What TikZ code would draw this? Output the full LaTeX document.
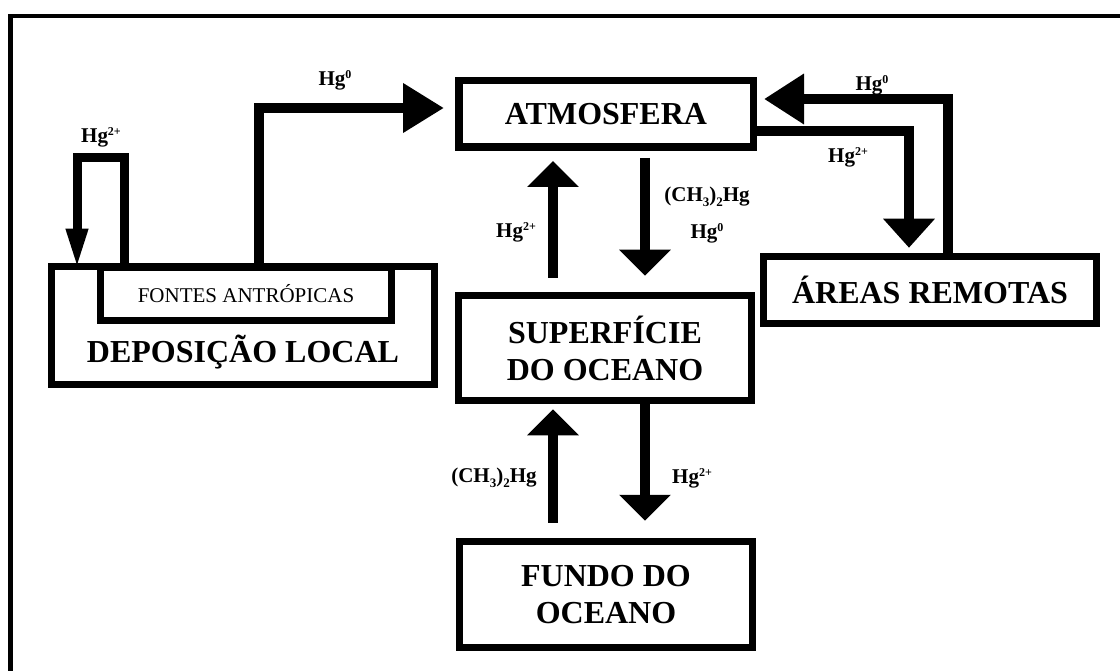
\documentclass[tikz,border=0pt]{standalone}
\usepackage{fontspec}
\setmainfont{Liberation Serif}
\usetikzlibrary{arrows.meta,calc}
\newcommand{\mysup}[1]{\raisebox{0.75ex}{\fontsize{12}{13}\selectfont #1}}
\newcommand{\mysub}[1]{\raisebox{-0.45ex}{\fontsize{13}{14}\selectfont #1}}
\begin{document}
\begin{tikzpicture}[x=1pt,y=-1pt,
  box/.style={draw, line width=7.5pt, inner sep=0pt, align=center},
  big/.style={font=\fontsize{32}{37}\selectfont\bfseries},
  lbl/.style={font=\fontsize{21}{24}\selectfont\bfseries, inner sep=0pt},
  flow/.style={line width=10.5pt, line join=miter, -{Triangle[length=26pt,width=50pt]}},
]
\useasboundingbox (0,0) rectangle (1120,671);
\clip (0,0) rectangle (1120,671);
\draw[line width=4.5pt] (1130,16) -- (10.5,16) -- (10.5,680);

% boxes
\node[box, big, minimum width=294.5pt, minimum height=66.5pt] (atm) at (606,114) {ATMOSFERA};
\node[box, big, minimum width=333pt, minimum height=67pt] (are) at (930,290) {ÁREAS REMOTAS};
\node[box, big, minimum width=293pt, minimum height=105pt] (sup) at (605,348) {SUPERFÍCIE\\DO OCEANO};
\node[box, big, minimum width=293pt, minimum height=106pt] (fun) at (606,594.5) {FUNDO DO\\OCEANO};
\node[box, minimum width=383pt, minimum height=118pt] (dep) at (243,325.5) {};
\node[box, minimum width=291pt, minimum height=53pt, font=\fontsize{21}{24}\selectfont] (fon) at (246,294) {FONTES ANTRÓPICAS};
\node[big, inner sep=0pt] (deptxt) at (243,352) {DEPOSIÇÃO LOCAL};

% helper coordinates
\coordinate (x77) at (77,0);
\coordinate (x124) at (124,0);
\coordinate (x259) at (259,0);
\coordinate (x553) at (553,0);
\coordinate (x645) at (645,0);
\coordinate (x909) at (909,0);
\coordinate (x948) at (948,0);
\coordinate (y158) at (0,158);
\coordinate (y108) at (0,108);
\coordinate (y99) at (0,99);
\coordinate (y131) at (0,131);

% connectors
\draw[line width=9pt, line join=miter, -{Triangle[length=40pt,width=20pt]}]
  (fon.north -| x124) -- (x124 |- y158) -- (x77 |- y158) -- ($(dep.north -| x77)+(0,6)$);
\draw[flow, -{Triangle[length=41pt,width=47pt]}]
  (fon.north -| x259) |- ($(atm.west |- y108)+(-11,0)$);
\draw[flow, -{Triangle[length=40pt,width=48pt]}]
  (are.north -| x948) |- ($(atm.east |- y99)+(7,0)$);
\draw[flow, -{Triangle[length=29pt,width=50pt]}]
  (atm.east |- y131) -| ($(are.north -| x909)+(0,-5)$);
\draw[flow] ($(sup.north -| x553)+(0,-14)$) -- ($(atm.south -| x553)+(0,10)$);
\draw[flow] ($(atm.south -| x645)+(0,7)$) -- ($(sup.north -| x645)+(0,-16)$);
\draw[flow] ($(fun.north -| x553)+(0,-15)$) -- ($(sup.south -| x553)+(0,5)$);
\draw[flow] (sup.south -| x645) -- ($(fun.north -| x645)+(0,-17)$);

% labels
\node[lbl] (l1) at (101,137) {Hg\mysup{2+}};
\node[lbl] (l2) at (335,80) {Hg\mysup{0}};
\node[lbl] (l3) at (872,85) {Hg\mysup{0}};
\node[lbl] (l4) at (848,157) {Hg\mysup{2+}};
\node[lbl] (l5) at (516,232) {Hg\mysup{2+}};
\node[lbl] (l6) at (707,197) {(CH\mysub{3})\mysub{2}Hg};
\node[lbl] (l7) at (707,233) {Hg\mysup{0}};
\node[lbl] (l8) at (494,478) {(CH\mysub{3})\mysub{2}Hg};
\node[lbl] (l9) at (692,478) {Hg\mysup{2+}};
\end{tikzpicture}
\end{document}
